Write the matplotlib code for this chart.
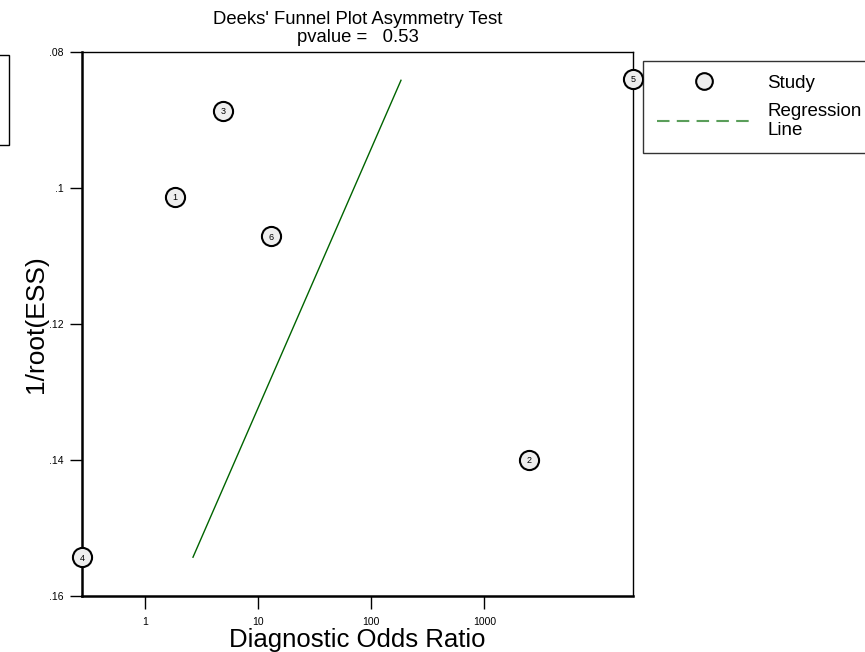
import matplotlib.pyplot as plt
from matplotlib.lines import Line2D
from matplotlib.patches import Rectangle

plt.rcParams['font.family'] = ['Liberation Sans', 'DejaVu Sans']

# study estimates: diagnostic odds ratio vs 1/sqrt(effective sample size)
study_ids = ['1', '2', '3', '4', '5', '6']
dor = [1.83, 2490, 4.9, 0.275, 20700, 12.9]
inv_root_ess = [0.1013, 0.1400, 0.0887, 0.1543, 0.0840, 0.1071]

# fitted regression line endpoints
reg_x = [2.64, 183]
reg_y = [0.1543, 0.0842]

pvalue = 0.53

fig = plt.figure(figsize=(8.65, 6.52), dpi=100)
ax = fig.add_axes([0.0948, 0.0859, 0.6370, 0.8348])

ax.plot(reg_x, reg_y, color='darkgreen', lw=1.0, zorder=2)
ax.scatter(dor, inv_root_ess, s=190, facecolor='#eeeeee', edgecolor='black',
           linewidths=1.5, zorder=3, clip_on=False)
for sid, xv, yv in zip(study_ids, dor, inv_root_ess):
    ax.text(xv, yv, sid, fontsize=6.5, ha='center', va='center_baseline', zorder=4)

ax.set_xscale('log')
ax.set_xlim(0.275, 20700)
ax.set_ylim(0.16, 0.08)
ax.set_xticks([1, 10, 100, 1000])
ax.set_xticklabels(['1', '10', '100', '1000'])
ax.minorticks_off()
ax.set_yticks([0.08, 0.1, 0.12, 0.14, 0.16])
ax.set_yticklabels(['.08', '.1', '.12', '.14', '.16'])
ax.tick_params(axis='both', labelsize=7.5, length=9, width=1.0, direction='out')
ax.tick_params(axis='x', pad=6)
ax.tick_params(axis='y', pad=4)

ax.spines['left'].set_linewidth(1.8)
ax.spines['bottom'].set_linewidth(1.8)
ax.spines['top'].set_linewidth(1.0)
ax.spines['right'].set_linewidth(1.0)

ax.set_xlabel('Diagnostic Odds Ratio', fontsize=18.5, labelpad=1)
ax.set_ylabel('1/root(ESS)', fontsize=19, labelpad=1)
ax.set_title("Deeks' Funnel Plot Asymmetry Test\npvalue =   %.2f" % pvalue,
             fontsize=13.3, linespacing=1.05, pad=7)

handles = [
    Line2D([], [], marker='o', ls='none', markersize=12, markerfacecolor='#eeeeee',
           markeredgecolor='black', markeredgewidth=1.5),
    Line2D([], [], color='#5a9e5a', ls=(0, (6, 3.5)), lw=1.5),
]
leg = fig.legend(handles, ['Study', 'Regression\nLine'], loc='upper left',
                 bbox_to_anchor=(0.7434, 0.9064), fontsize=13.5, frameon=True,
                 fancybox=False, edgecolor='black', handlelength=5.1,
                 handletextpad=0.8, borderpad=0.72, labelspacing=0.62,
                 borderaxespad=0)
leg.get_frame().set_linewidth(1.0)
for t in leg.get_texts():
    t.set_linespacing(1.15)

# partial frame at the left edge of the figure
fig.add_artist(Rectangle((-0.05, 1 - 145 / 652), 0.0604, 90 / 652,
                         transform=fig.transFigure, fill=False,
                         edgecolor='black', lw=1.0))

fig.savefig('out.png', dpi=100)
